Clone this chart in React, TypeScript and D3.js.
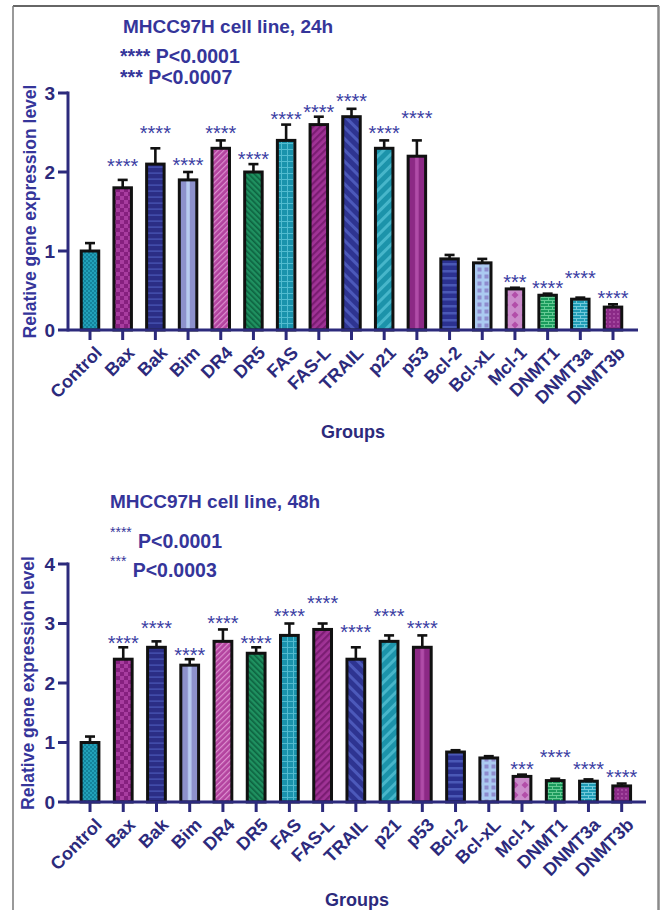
import React from "react";
import * as d3 from "d3";

const categories = ["Control","Bax","Bak","Bim","DR4","DR5","FAS","FAS-L","TRAIL","p21","p53","Bcl-2","Bcl-xL","Mcl-1","DNMT1","DNMT3a","DNMT3b"];

const mean24 = [1.0,1.8,2.1,1.9,2.3,2.0,2.4,2.6,2.7,2.3,2.2,0.9,0.85,0.52,0.44,0.39,0.29];
const err24 = [0.1,0.1,0.2,0.1,0.1,0.1,0.2,0.1,0.1,0.1,0.2,0.05,0.05,0.015,0.02,0.02,0.035];
const sig24 = ["","****","****","****","****","****","****","****","****","****","****","","","***","****","****","****"];
const sigAt24 = [0,2.13,2.54,2.14,2.54,2.22,2.72,2.81,2.95,2.54,2.73,0,0,0.66,0.58,0.71,0.46];

const mean48 = [1.0,2.4,2.6,2.3,2.7,2.5,2.8,2.9,2.4,2.7,2.6,0.84,0.74,0.43,0.36,0.35,0.27];
const err48 = [0.1,0.2,0.1,0.1,0.2,0.1,0.2,0.1,0.2,0.1,0.2,0.03,0.03,0.03,0.03,0.03,0.04];
const sig48 = ["","****","****","****","****","****","****","****","****","****","****","","","***","****","****","****"];
const sigAt48 = [0,2.74,3.0,2.54,3.08,2.74,3.19,3.41,2.92,3.2,3.0,0,0,0.63,0.83,0.63,0.49];

const ticks24 = [0,1,2,3];
const ticks48 = [0,1,2,3,4];

const FONT = "'Liberation Sans', Arial, sans-serif";
const NAVY = "#2c2a7c";
const TXT = "#35359a";

function Diag({ id, base, line, w, gap, angle }: any) {
  return (
    <pattern id={id} patternUnits="userSpaceOnUse" width={gap} height={gap} patternTransform={`rotate(${angle})`}>
      <rect width={gap} height={gap} fill={base} />
      <rect x={0} y={0} width={w} height={gap} fill={line} />
    </pattern>
  );
}

function Patterns({ prefix }: { prefix: string }) {
  const p = (i: number) => `${prefix}${i}`;
  return (
    <defs>
      <pattern id={p(0)} patternUnits="userSpaceOnUse" width={4} height={4}>
        <rect width={4} height={4} fill="#22a2ba" />
        <rect width={2} height={2} fill="#13839b" />
        <rect x={2} y={2} width={2} height={2} fill="#13839b" />
      </pattern>
      <pattern id={p(1)} patternUnits="userSpaceOnUse" width={8} height={8}>
        <rect width={8} height={8} fill="#a83da0" />
        <rect width={4} height={4} fill="#86207f" />
        <rect x={4} y={4} width={4} height={4} fill="#86207f" />
      </pattern>
      <pattern id={p(2)} patternUnits="userSpaceOnUse" width={6} height={6}>
        <rect width={6} height={6} fill="#2b2e86" />
        <rect y={4.5} width={6} height={1.2} fill="#4a58b8" />
      </pattern>
      <pattern id={p(3)} patternUnits="objectBoundingBox" patternContentUnits="objectBoundingBox" width={1} height={1}>
        <rect width={1} height={1} fill="#8d91cc" />
        <rect x={0.4} width={0.2} height={1} fill="#b8cbf0" />
      </pattern>
      <Diag id={p(4)} base="#b3439f" line="#dc8fcf" w={1.2} gap={4} angle={45} />
      <Diag id={p(5)} base="#1f9160" line="#0d6240" w={1.6} gap={4} angle={-45} />
      <pattern id={p(6)} patternUnits="userSpaceOnUse" width={6} height={6}>
        <rect width={6} height={6} fill="#1a93ac" />
        <rect x={5} width={1.2} height={6} fill="#52bbcf" />
        <rect y={5} width={6} height={1.2} fill="#52bbcf" />
      </pattern>
      <Diag id={p(7)} base="#a03396" line="#7b1d73" w={2.2} gap={5} angle={45} />
      <Diag id={p(8)} base="#2e3491" line="#4c59ba" w={3} gap={8} angle={-45} />
      <Diag id={p(9)} base="#1c93aa" line="#47b6ca" w={3} gap={8} angle={45} />
      <pattern id={p(10)} patternUnits="objectBoundingBox" patternContentUnits="objectBoundingBox" width={1} height={1}>
        <rect width={1} height={1} fill="#8c2985" />
        <rect x={0.4} width={0.2} height={1} fill="#b04ca8" />
      </pattern>
      <pattern id={p(11)} patternUnits="userSpaceOnUse" width={7} height={7}>
        <rect width={7} height={7} fill="#2b3190" />
        <rect y={4} width={7} height={2.5} fill="#4a58b6" />
      </pattern>
      <pattern id={p(12)} patternUnits="userSpaceOnUse" width={7} height={7}>
        <rect width={7} height={7} fill="#abcaf1" />
        <rect x={1.5} y={1.5} width={4} height={4} fill="#8e8bcd" />
      </pattern>
      <pattern id={p(13)} patternUnits="userSpaceOnUse" width={10} height={10}>
        <rect width={10} height={10} fill="#cb8ccb" />
        <polygon points="5,1.5 8.5,5 5,8.5 1.5,5" fill="#b24ea9" />
      </pattern>
      <pattern id={p(14)} patternUnits="userSpaceOnUse" width={8} height={6}>
        <rect width={8} height={6} fill="#1b9b5d" />
        <rect y={0} width={8} height={1} fill="#66cb94" />
        <rect y={3} width={8} height={1} fill="#66cb94" />
        <rect x={0} y={0} width={1} height={3} fill="#66cb94" />
        <rect x={4} y={3} width={1} height={3} fill="#66cb94" />
      </pattern>
      <pattern id={p(15)} patternUnits="userSpaceOnUse" width={8} height={6}>
        <rect width={8} height={6} fill="#1f9cb5" />
        <rect y={0} width={8} height={1} fill="#72cadc" />
        <rect y={3} width={8} height={1} fill="#72cadc" />
        <rect x={0} y={0} width={1} height={3} fill="#72cadc" />
        <rect x={4} y={3} width={1} height={3} fill="#72cadc" />
      </pattern>
      <pattern id={p(16)} patternUnits="userSpaceOnUse" width={4} height={4}>
        <rect width={4} height={4} fill="#8b2a87" />
        <circle cx={2} cy={2} r={0.9} fill="#b057ab" />
      </pattern>
    </defs>
  );
}

function Chart(props: any) {
  const { prefix, values, errs, sigs, sigAt, ticks, yMax, yTop, yBottom, xRange, axisEnd, axisX, yTitleX, groupsY } = props;
  const y = d3.scaleLinear().domain([0, yMax]).range([yBottom, yTop]);
  const x = d3.scaleBand<string>().domain(categories).range(xRange).paddingInner(0.465).paddingOuter(0.2325);
  const bw = x.bandwidth();
  return (
    <g>
      <Patterns prefix={prefix} />
      {categories.map((c, i) => {
        const x0 = x(c) as number;
        const cx = x0 + bw / 2;
        const top = y(values[i] + errs[i]);
        return (
          <g key={c}>
            <line x1={cx} x2={cx} y1={y(values[i])} y2={top} stroke="#111" strokeWidth={2.6} />
            <line x1={cx - 5} x2={cx + 5} y1={top} y2={top} stroke="#111" strokeWidth={2.6} />
            <rect x={x0} y={y(values[i])} width={bw} height={yBottom - y(values[i])} fill={`url(#${prefix}${i})`} stroke="#111" strokeWidth={3} />
            {sigs[i] && (
              <text x={cx} y={y(sigAt[i]) + 11} textAnchor="middle" fontFamily={FONT} fontSize={20} fill="#3b3ea3">{sigs[i]}</text>
            )}
          </g>
        );
      })}
      <line x1={axisX} x2={axisEnd} y1={yBottom} y2={yBottom} stroke={NAVY} strokeWidth={3} />
      <line x1={axisX} x2={axisX} y1={yTop - 1.5} y2={yBottom + 1.5} stroke={NAVY} strokeWidth={3} />
      {ticks.map((t: number) => (
        <g key={t}>
          <line x1={axisX - 10} x2={axisX} y1={y(t)} y2={y(t)} stroke={NAVY} strokeWidth={3} />
          <text x={axisX - 13} y={y(t)} dy="0.36em" textAnchor="end" fontFamily={FONT} fontWeight="bold" fontSize={19} fill={NAVY}>{t}</text>
        </g>
      ))}
      {categories.map((c) => {
        const cx = (x(c) as number) + bw / 2;
        return (
          <g key={c}>
            <line x1={cx} x2={cx} y1={yBottom} y2={yBottom + 10} stroke={NAVY} strokeWidth={3} />
            <text transform={`translate(${cx + 13},${yBottom + 24}) rotate(-45)`} textAnchor="end" fontFamily={FONT} fontWeight="bold" fontSize={18} fill={NAVY}>{c}</text>
          </g>
        );
      })}
      <text transform={`translate(${yTitleX},${(yTop + yBottom) / 2}) rotate(-90)`} textAnchor="middle" fontFamily={FONT} fontWeight="bold" fontSize={17.5} fill={TXT}>Relative gene expression level</text>
      <text x={(axisX + axisEnd) / 2} y={groupsY} textAnchor="middle" fontFamily={FONT} fontWeight="bold" fontSize={18} fill={NAVY}>Groups</text>
    </g>
  );
}

export default function App() {
  return (
    <svg width={661} height={910} style={{ position: "absolute", left: 0, top: 0, background: "#fff" }}>
      <rect width={661} height={910} fill="#fff" />
      <line x1={13} x2={659} y1={6} y2={6} stroke="#333" strokeWidth={1.5} />
      <line x1={13} x2={13} y1={6} y2={910} stroke="#777" strokeWidth={1.5} />
      <line x1={658.5} x2={658.5} y1={6} y2={910} stroke="#8a8a8a" strokeWidth={2.5} />

      <text x={123} y={33} fontFamily={FONT} fontWeight="bold" fontSize={19} fill={TXT}>MHCC97H cell line, 24h</text>
      <text x={120} y={63} fontFamily={FONT} fontWeight="bold" fontSize={19.5} fill={TXT}>**** P&lt;0.0001</text>
      <text x={120} y={84} fontFamily={FONT} fontWeight="bold" fontSize={19.5} fill={TXT}>*** P&lt;0.0007</text>
      <Chart prefix="a" values={mean24} errs={err24} sigs={sig24} sigAt={sigAt24} ticks={ticks24} yMax={3}
        yTop={93} yBottom={330} xRange={[73.65, 629.35]} axisX={68} axisEnd={638} yTitleX={36} groupsY={438} />

      <text x={110} y={508} fontFamily={FONT} fontWeight="bold" fontSize={19} fill={TXT}>MHCC97H cell line, 48h</text>
      <text x={110} y={537} fontFamily={FONT} fontSize={14} fill={TXT}>****</text>
      <text x={138} y={548} fontFamily={FONT} fontWeight="bold" fontSize={19.5} fill={TXT}>P&lt;0.0001</text>
      <text x={110} y={566} fontFamily={FONT} fontSize={14} fill={TXT}>***</text>
      <text x={132.7} y={577} fontFamily={FONT} fontWeight="bold" fontSize={19.5} fill={TXT}>P&lt;0.0003</text>
      <Chart prefix="b" values={mean48} errs={err48} sigs={sig48} sigAt={sigAt48} ticks={ticks48} yMax={4}
        yTop={564} yBottom={802} xRange={[73.4, 638.3]} axisX={68} axisEnd={646} yTitleX={34} groupsY={906} />
    </svg>
  );
}
